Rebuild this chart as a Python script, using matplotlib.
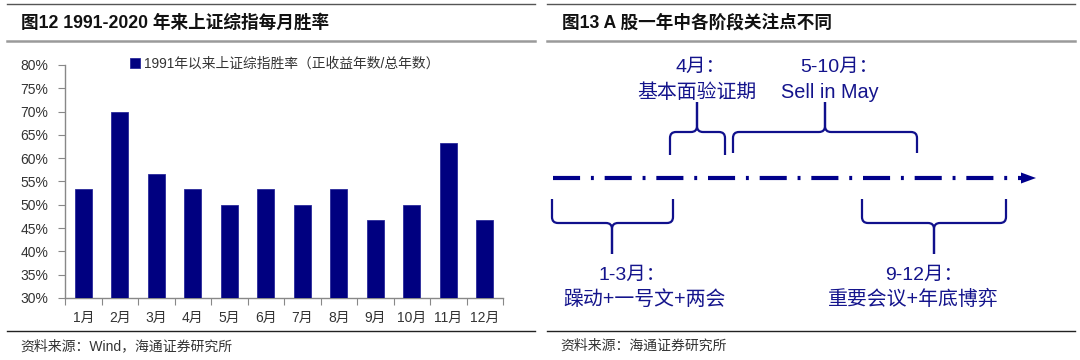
import matplotlib
matplotlib.use("Agg")
import matplotlib.pyplot as plt
from matplotlib.path import Path
from matplotlib.patches import PathPatch, Polygon
from matplotlib.ticker import FixedLocator, PercentFormatter

plt.rcParams['font.family'] = ['Liberation Sans', 'Noto Sans CJK SC']

# ---------------- data ----------------
months = ['1月', '2月', '3月', '4月', '5月', '6月', '7月', '8月', '9月', '10月', '11月', '12月']
win_rate = [53.3, 70.0, 56.7, 53.3, 50.0, 53.3, 50.0, 53.3, 46.7, 50.0, 63.3, 46.7]
series_label = '1991年以来上证综指胜率（正收益年数/总年数）'
title_left = '图12 1991-2020 年来上证综指每月胜率'
title_right = '图13 A 股一年中各阶段关注点不同'
source_left = '资料来源：Wind，海通证券研究所'
source_right = '资料来源：海通证券研究所'
stage_top = [('4月：', '基本面验证期'), ('5-10月：', 'Sell in May')]
stage_bottom = [('1-3月：', '躁动+一号文+两会'), ('9-12月：', '重要会议+年底博弈')]

NAVY = '#000080'
W, H = 1080, 360
fig = plt.figure(figsize=(W / 100, H / 100), dpi=100)

# ---------------- overlay axes in pixel coords ----------------
ov = fig.add_axes([0, 0, 1, 1])
ov.set_xlim(0, W)
ov.set_ylim(H, 0)
ov.axis('off')

for (xa, xb) in [(7, 535), (547, 1075)]:
    ov.plot([xa, xb], [3.5, 3.5], color='#555555', lw=1.0)
    ov.plot([xa, xb], [40.5, 40.5], color='#9a9a9a', lw=1.8)
    ov.plot([xa, xb], [331, 331], color='#222222', lw=1.0)

ov.text(21, 23, title_left, fontsize=12.7, fontweight='bold', ha='left', va='center', color='#111111')
ov.text(562, 23, title_right, fontsize=12.7, fontweight='bold', ha='left', va='center', color='#111111')
ov.text(20, 346, source_left, fontsize=10, ha='left', va='center', color='#333333')
ov.text(560, 346, source_right, fontsize=10, ha='left', va='center', color='#333333')

# ---------------- bar chart ----------------
ax = fig.add_axes([65 / W, 1 - 298 / H, 438 / W, 233 / H])
x = list(range(len(months)))
bars = ax.bar(x, win_rate, width=0.47, color=NAVY, edgecolor='#2a2a9a', linewidth=0.6,
              label=series_label, zorder=3)
ax.set_ylim(30, 80)
ax.set_xlim(-0.5, len(months) - 0.5)
ax.yaxis.set_major_locator(FixedLocator([30 + 5 * i for i in range(11)]))
ax.yaxis.set_major_formatter(PercentFormatter(decimals=0))
ax.set_xticks([i - 0.5 for i in range(len(months) + 1)])
ax.set_xticklabels([])
ax.set_xticks(x, minor=True)
ax.set_xticklabels(months, minor=True)
ax.tick_params(axis='x', which='major', length=5, color='#888888', direction='out')
ax.tick_params(axis='x', which='minor', length=0, pad=9, labelsize=10, labelcolor='#333333')
ax.tick_params(axis='y', length=5, color='#888888', direction='out', pad=7,
               labelsize=10, labelcolor='#333333')
for s in ['top', 'right']:
    ax.spines[s].set_visible(False)
for s in ['left', 'bottom']:
    ax.spines[s].set_color('#888888')
    ax.spines[s].set_linewidth(1.0)
ax.set_facecolor('none')
leg = ax.legend(loc='center left', bbox_to_anchor=(123 / W, 1 - 64 / H),
                bbox_transform=fig.transFigure, frameon=False, fontsize=9.9,
                handlelength=0.7, handleheight=0.7, handletextpad=0.3, borderpad=0)
for t in leg.get_texts():
    t.set_color('#333333')

# ---------------- timeline diagram ----------------
BR = '#10108c'
tl = ov.plot([553, 1023], [178, 178], color='#00008b', lw=3.0,
             linestyle=(0, (6.5, 2.6, 0.7, 2.6)), solid_capstyle='butt', dash_capstyle='butt')
ov.add_patch(Polygon([(1021, 172.5), (1036, 178), (1021, 183.5)], closed=True,
                     facecolor='#00008b', edgecolor='none'))


def brace(x0, x1, xm, yend, yh, ytip, r=6):
    s = 1 if yend > yh else -1
    for xe, d in [(x0, 1), (x1, -1)]:
        verts = [(xe, yend), (xe, yh + s * r), (xe, yh), (xe + d * r, yh),
                 (xm - d * r, yh), (xm, yh), (xm, yh - s * r), (xm, ytip)]
        codes = [Path.MOVETO, Path.LINETO, Path.CURVE3, Path.CURVE3,
                 Path.LINETO, Path.CURVE3, Path.CURVE3, Path.LINETO]
        ov.add_patch(PathPatch(Path(verts, codes), facecolor='none', edgecolor=BR,
                               lw=1.6, capstyle='butt'))


brace(670, 725, 697, 155, 132, 102)
brace(733, 917, 825, 153, 132, 102)
brace(552, 673, 612, 199, 223, 254)
brace(862, 1006, 934, 199, 223, 254)

top_pos = [((675, 67), (637, 93)), ((800, 67), (781, 93))]
bot_pos = [((598, 275), (563, 299)), ((885, 275), (828, 299))]
for (l1, l2), (p1, p2) in zip(stage_top + stage_bottom, top_pos + bot_pos):
    ov.text(p1[0], p1[1], l1, fontsize=14, color='#14148c', ha='left', va='center')
    ov.text(p2[0], p2[1], l2, fontsize=14.3, color='#14148c', ha='left', va='center')

fig.savefig('out.png', dpi=100)
